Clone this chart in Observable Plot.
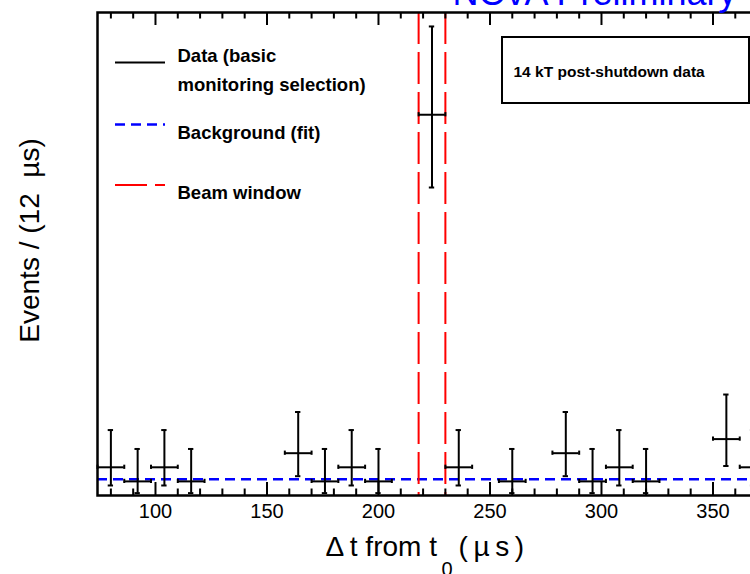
<!DOCTYPE html>
<html>
<head>
<meta charset="utf-8">
<script src="https://cdn.jsdelivr.net/npm/d3@7"></script>
<script src="https://cdn.jsdelivr.net/npm/@observablehq/plot@0.6"></script>
<style>
html, body { margin: 0; padding: 0; background: #fff; overflow: hidden; }
#chart svg { display: block; }
</style>
</head>
<body>
<div id="chart"></div>
<script>
// ---- data ----
const binCenters = [80, 92, 104, 116, 128, 140, 152, 164, 176, 188, 200, 212, 224, 236, 248, 260, 272, 284, 296, 308, 320, 332, 344, 356, 368];
const counts     = [2, 1, 2, 1, 0, 0, 0, 3, 1, 2, 1, 0, 27, 2, 0, 1, 0, 3, 1, 2, 1, 0, 0, 4, 2];
// asymmetric (Poisson) error-bar ends as drawn
const errLow  = [0.71, 0.17, 0.71, 0.17, null, null, null, 1.37, 0.17, 0.71, 0.17, null, 21.84, 0.71, null, 0.17, null, 1.37, 0.17, 0.71, 0.17, null, null, 2.09, 0.71];
const errHigh = [4.64, 3.30, 4.64, 3.30, null, null, null, 5.92, 3.30, 4.64, 3.30, null, 33.26, 4.64, null, 3.30, null, 5.92, 3.30, 4.64, 3.30, null, null, 7.16, 4.64];
const binHalfWidth = 6;
const backgroundLevel = [1.15];
const beamWindow = [218, 230];
const xDomain = [74, 374];
const yDomain = [0, 34.25];
const majorTicks = [100, 150, 200, 250, 300, 350];
const minorTicks = [80, 90, 110, 120, 130, 140, 160, 170, 180, 190, 210, 220, 230, 240, 260, 270, 280, 290, 310, 320, 330, 340, 360, 370];

const bins = binCenters
  .map((x, i) => ({x, n: counts[i], lo: errLow[i], hi: errHigh[i]}))
  .filter(d => d.n > 0);

// ---- layout ----
const W = 750, H = 574;
const mL = 97, mT = 12, mB = 79, mR = -16;
const frameH = H - mT - mB;
const majorLen = 13, minorLen = 6.5;
const FONT = "'Liberation Sans', Arial, Helvetica, sans-serif";

const dataStyle = {stroke: "black", strokeWidth: 2};
const bgStyle = {stroke: "#0000ff", strokeWidth: 2.5, strokeDasharray: "10,6"};
const beamStyle = {stroke: "#ff0000", strokeWidth: 2, strokeDasharray: "32,8"};

// text placed in page pixels relative to the frame's top-left corner
function label(text, px, py, opts = {}) {
  return Plot.text([text], {
    frameAnchor: "top-left", dx: px - mL, dy: py - mT,
    lineAnchor: "bottom", textAnchor: "start", fill: "black", ...opts
  });
}

// legend swatches and the info box
function decorations(index, scales, values, dims) {
  const g = d3.create("svg:g");
  const sw = [
    {y: 62.5, s: dataStyle},
    {y: 124.5, s: bgStyle},
    {y: 185, s: beamStyle}
  ];
  for (const {y, s} of sw) {
    g.append("line").attr("x1", 115).attr("x2", 165).attr("y1", y).attr("y2", y)
      .attr("stroke", s.stroke).attr("stroke-width", s.strokeWidth)
      .attr("stroke-dasharray", s.strokeDasharray || null);
  }
  g.append("rect").attr("x", 502).attr("y", 37).attr("width", 247).attr("height", 66)
    .attr("fill", "white").attr("stroke", "black").attr("stroke-width", 2);
  return g.node();
}

const chart = Plot.plot({
  width: W, height: H,
  marginLeft: mL, marginRight: mR, marginTop: mT, marginBottom: mB,
  style: {fontFamily: FONT, fontSize: "20px", background: "white", color: "black", overflow: "hidden"},
  x: {domain: xDomain, axis: null},
  y: {domain: yDomain, axis: null},
  marks: [
    // background fit
    Plot.ruleY(backgroundLevel, bgStyle),
    // beam window
    Plot.ruleX(beamWindow, beamStyle),
    // data error bars
    Plot.ruleX(bins, {x: "x", y1: "lo", y2: "hi", ...dataStyle}),
    Plot.ruleY(bins, {y: "n", x1: d => d.x - binHalfWidth, x2: d => d.x + binHalfWidth, ...dataStyle}),
    Plot.ruleY(bins, {y: "hi", x1: d => d.x - 1.2, x2: d => d.x + 1.2, ...dataStyle}),
    Plot.ruleY(bins, {y: "lo", x1: d => d.x - 1.2, x2: d => d.x + 1.2, ...dataStyle}),
    Plot.ruleX(bins, {x: d => d.x - binHalfWidth, y1: d => d.n - 0.15, y2: d => d.n + 0.15, ...dataStyle}),
    Plot.ruleX(bins, {x: d => d.x + binHalfWidth, y1: d => d.n - 0.15, y2: d => d.n + 0.15, ...dataStyle}),
    // ticks (inward, bottom and top)
    Plot.tickX(majorTicks, {x: d => d, insetTop: frameH - majorLen, stroke: "black", strokeWidth: 2}),
    Plot.tickX(minorTicks, {x: d => d, insetTop: frameH - minorLen, stroke: "black", strokeWidth: 2}),
    Plot.tickX(majorTicks, {x: d => d, insetBottom: frameH - majorLen, stroke: "black", strokeWidth: 2}),
    Plot.tickX(minorTicks, {x: d => d, insetBottom: frameH - minorLen, stroke: "black", strokeWidth: 2}),
    Plot.frame({stroke: "black", strokeWidth: 2.5}),
    // tick labels
    Plot.axisX({ticks: majorTicks, anchor: "bottom", tickSize: 0, tickPadding: 8, fontSize: 20, label: null, fill: "black"}),
    // legend + box
    decorations,
    label("Data (basic", 177, 61, {fontSize: 18.5, fontWeight: "bold"}),
    label("monitoring selection)", 177, 90, {fontSize: 18.5, fontWeight: "bold"}),
    label("Background (fit)", 177, 138, {fontSize: 18.5, fontWeight: "bold"}),
    label("Beam window", 177, 198, {fontSize: 18.5, fontWeight: "bold"}),
    label("14 kT post-shutdown data", 513, 76, {fontSize: 15.5, fontWeight: "bold"}),
    // title (cropped at the top, as in the reference)
    label("NOvA Preliminary", 452, 4, {fontSize: 36, fill: "#0000ff"}),
    // axis titles
    label("Δ\u2009t from t", 325, 555, {fontSize: 28}),
    label("0", 441, 575, {fontSize: 20}),
    label("(\u2009µ\u2009s\u2009)", 458, 555, {fontSize: 28}),
    Plot.text(["Events / (12  µs)"], {
      frameAnchor: "left", dx: 38 - mL, dy: 240 - (mT + frameH / 2),
      rotate: -90, lineAnchor: "bottom", textAnchor: "middle", fontSize: 28, fill: "black"
    })
  ]
});

document.getElementById("chart").appendChild(chart);
</script>
</body>
</html>
